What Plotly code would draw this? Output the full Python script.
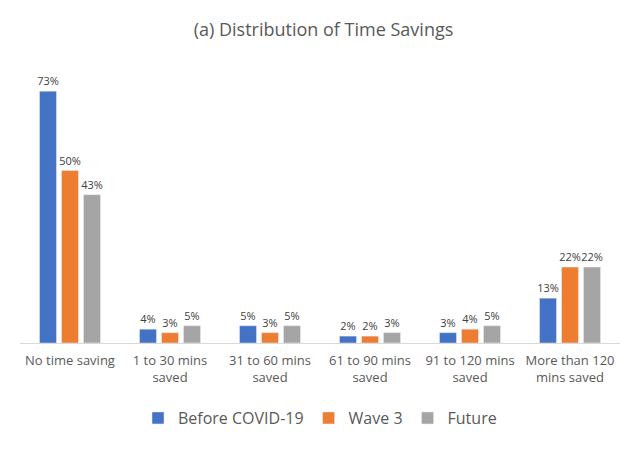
import plotly.graph_objects as go

categories = ["No time saving", "1 to 30 mins<br>saved", "31 to 60 mins<br>saved",
              "61 to 90 mins<br>saved", "91 to 120 mins<br>saved", "More than 120<br>mins saved"]
before_covid = [73, 4, 5, 2, 3, 13]
wave3 = [50, 3, 3, 2, 4, 22]
future = [43, 5, 5, 3, 5, 22]

series = [("Before COVID-19", before_covid, "#4472c4"),
          ("Wave 3", wave3, "#ed7d31"),
          ("Future", future, "#a5a5a5")]

fig = go.Figure()
for name, vals, color in series:
    fig.add_trace(go.Bar(
        x=categories, y=vals, name=name, marker_color=color,
        text=[f"{v}%" for v in vals], textposition="outside",
        constraintext="none",
        textfont=dict(size=11, color="#404040"), cliponaxis=False,
    ))

fig.update_layout(
    width=631, height=442,
    paper_bgcolor="white", plot_bgcolor="white",
    font=dict(family="Open Sans, Liberation Sans, sans-serif", color="#595959"),
    title=dict(text="(a) Distribution of Time Savings", x=0.5, xanchor="center",
               y=0.95, yanchor="middle", font=dict(size=18, color="#595959")),
    margin=dict(l=12, r=19, t=59, b=107),
    barmode="group", bargap=0.34, bargroupgap=0.23,
    showlegend=True,
    legend=dict(orientation="h", x=0.5, xanchor="center", y=-0.272, yanchor="middle",
                font=dict(size=16, color="#595959"), traceorder="normal",
                itemwidth=30),
    xaxis=dict(showline=True, linecolor="#d9d9d9", linewidth=1, ticks="",
               tickfont=dict(size=13, color="#595959"), showgrid=False,
               ticklabelstandoff=5),
    yaxis=dict(range=[0, 80], visible=False, showgrid=False, zeroline=False),
)

fig.write_html("out.html")
